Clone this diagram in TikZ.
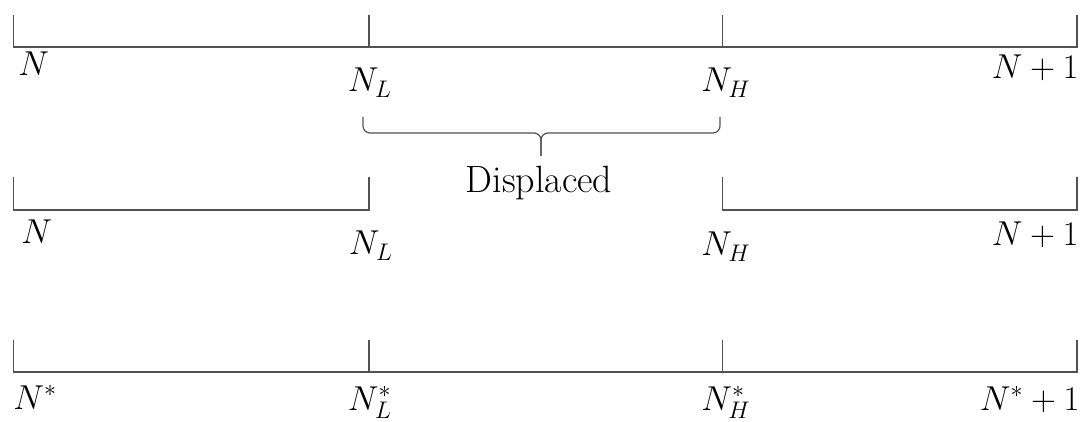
\documentclass[tikz,border=0pt]{standalone}
\tikzset{
  axis/.style={draw=black!68, line width=0.65pt},
  lbl/.style={inner sep=0pt, font=\fontsize{17}{20}\selectfont},
  txt/.style={inner sep=0pt, font=\rmfamily\fontsize{19}{22}\selectfont},
  brace/.style={draw=black!68, line width=0.6pt, rounded corners=3.5pt}
}
\begin{document}
\begin{tikzpicture}[x=0.5pt,y=-0.5pt]
\useasboundingbox (0,0) rectangle (1081,422);
% tick coordinates
\foreach \r/\yb/\yt in {a/47/15, b/210/177, c/372/340}{
  \coordinate (\r0) at (13.5,\yb);  \coordinate (\r0t) at (13.5,\yt);
  \coordinate (\r1) at (369,\yb);   \coordinate (\r1t) at (369,\yt);
  \coordinate (\r2) at (722.5,\yb); \coordinate (\r2t) at (722.5,\yt);
  \coordinate (\r3) at (1077,\yb);  \coordinate (\r3t) at (1077,\yt);
}
% line 1
\draw[axis] (a0t) -- (a0) -- (a3) -- (a3t);
\draw[axis] (a1t) -- (a1);
\draw[axis] (a2t) -- (a2);
% line 2
\draw[axis] (b0t) -- (b0) -- (b1) -- (b1t);
\draw[axis] (b2t) -- (b2) -- (b3) -- (b3t);
% line 3
\draw[axis] (c0t) -- (c0) -- (c3) -- (c3t);
\draw[axis] (c1t) -- (c1);
\draw[axis] (c2t) -- (c2);
% labels line 1
\node[lbl, anchor=base west] (la0) at (18,76) {$N$};
\node[lbl, anchor=base] (la1) at (370,92) {$N_L$};
\node[lbl, anchor=base] (la2) at (726,92) {$N_H$};
\node[lbl, anchor=base east] (la3) at (1079,79) {$N+1$};
% labels line 2
\node[lbl, anchor=base west] (lb0) at (21,244) {$N$};
\node[lbl, anchor=base] (lb1) at (371,255) {$N_L$};
\node[lbl, anchor=base] (lb2) at (726,256) {$N_H$};
\node[lbl, anchor=base east] (lb3) at (1079,246) {$N+1$};
% labels line 3
\node[lbl, anchor=base west] (lc0) at (13,409) {$N^*$};
\node[lbl, anchor=base] (lc1) at (370,410) {$N_L^*$};
\node[lbl, anchor=base] (lc2) at (726,410) {$N_H^*$};
\node[lbl, anchor=base east] (lc3) at (1080,410) {$N^*+1$};
% brace
\coordinate (bl) at (363,117);
\coordinate (br) at (720,117);
\coordinate (bm) at (541,133);
\coordinate (btip) at (541,156);
\draw[brace] (bl) |- (bm) -- (btip);
\draw[brace] (br) |- (bm) -- (btip);
\node[txt, anchor=base] (disp) at (539,193) {Displaced};
\end{tikzpicture}
\end{document}
